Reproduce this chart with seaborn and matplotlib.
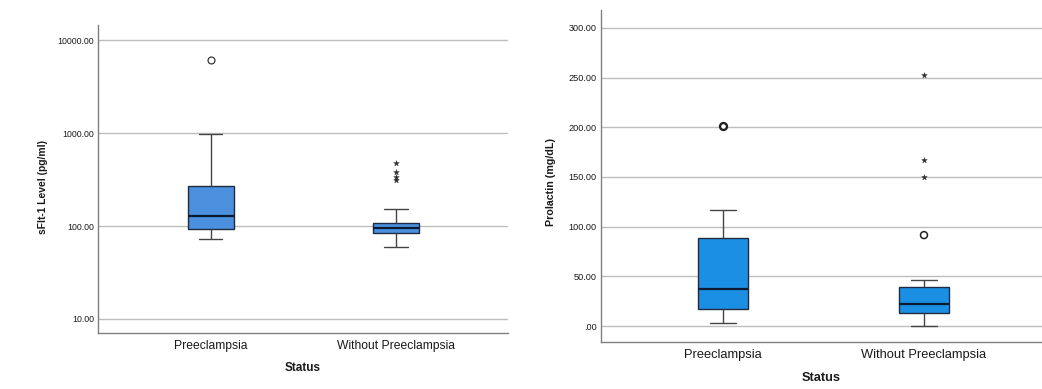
import matplotlib
matplotlib.use("Agg")
import matplotlib.pyplot as plt
import matplotlib.ticker as mticker
import pandas as pd
import seaborn as sns

groups = ["Preeclampsia", "Without Preeclampsia"]

# box summaries: whisker low, Q1, median, Q3, whisker high
sflt_pre = [73, 93, 128, 272, 980]
sflt_without = [60, 84, 95, 108, 153]
sflt_pre_circles = [6100]
sflt_without_stars = [472, 385, 334, 313]
sflt_ticks = [10, 100, 1000, 10000]

prl_pre = [3.3, 16.8, 36.9, 88.5, 116.4]
prl_without = [0.3, 13.4, 22.4, 39.5, 46.6]
prl_pre_circles = [201]
prl_without_circles = [91.5]
prl_without_stars = [253, 166.7, 149.6]
prl_ticks = [0, 50, 100, 150, 200, 250, 300]

sns.set_style("white")
plt.rcParams["font.family"] = ["Liberation Sans", "DejaVu Sans"]
plt.rcParams["text.color"] = "#1a1a1a"
plt.rcParams["axes.labelcolor"] = "#1a1a1a"
plt.rcParams["xtick.color"] = "#1a1a1a"
plt.rcParams["ytick.color"] = "#1a1a1a"


def long_df(a, b):
    return pd.DataFrame({"Status": [groups[0]] * len(a) + [groups[1]] * len(b),
                         "value": list(a) + list(b)})


def draw_box(ax, df, color, log=False):
    sns.boxplot(data=df, x="Status", y="value", order=groups, ax=ax,
                color=color, saturation=1, width=0.25, whis=(0, 100),
                showfliers=False, linecolor="#1f2b40", linewidth=1,
                log_scale=log,
                medianprops={"color": "#0b1a33", "linewidth": 1.6},
                whiskerprops={"color": "#444444"},
                capprops={"color": "#444444"})


def draw_out(ax, vals, group, marker, lw=1.1):
    if not vals:
        return
    d = pd.DataFrame({"Status": [group] * len(vals), "value": vals})
    if marker == "o":
        sns.stripplot(data=d, x="Status", y="value", order=groups, ax=ax,
                      jitter=False, marker="o", size=5, color="white",
                      edgecolor="#222222", linewidth=lw, zorder=4)
        ax.collections[-1].set_facecolor("none")
    else:
        sns.stripplot(data=d, x="Status", y="value", order=groups, ax=ax,
                      jitter=False, marker="*", size=4.2, color="#2a2a2a",
                      edgecolor="#2a2a2a", linewidth=0.3, zorder=4)


def style(ax):
    ax.set_axisbelow(True)
    ax.yaxis.grid(True, color="#bdbdbd", linewidth=1)
    ax.xaxis.grid(False)
    for s in ["top", "right"]:
        ax.spines[s].set_visible(False)
    for s in ["left", "bottom"]:
        ax.spines[s].set_color("#808080")
        ax.spines[s].set_linewidth(1)
    ax.tick_params(axis="both", length=0)
    ax.minorticks_off()


fig = plt.figure(figsize=(10.42, 3.89), dpi=100)

# left panel: sFlt-1 (log scale)
ax1 = fig.add_axes([0.0940, 0.1440, 0.3935, 0.7918])
draw_box(ax1, long_df(sflt_pre, sflt_without), "#4a90dc", log=True)
draw_out(ax1, sflt_pre_circles, groups[0], "o", lw=0.8)
draw_out(ax1, sflt_without_stars, groups[1], "*")
style(ax1)
ax1.set_yticks(sflt_ticks)
ax1.yaxis.set_major_formatter(mticker.FuncFormatter(lambda v, p: f"{v:.2f}"))
ax1.yaxis.set_minor_locator(mticker.NullLocator())
ax1.set_ylim(7.05, 14600)
ax1.set_xlim(-0.61, 1.605)
ax1.tick_params(axis="y", labelsize=6.3, pad=3)
ax1.tick_params(axis="x", labelsize=8.7, pad=5)
ax1.set_xlabel("Status", fontsize=8.5, fontweight="bold", labelpad=7.5)
ax1.set_ylabel("sFlt-1 Level (pg/ml)", fontsize=7.4, fontweight="bold")
ax1.yaxis.set_label_coords(-0.122, 0.474)


def spss_fmt(v, p):
    s = f"{v:.2f}"
    return s[1:] if s.startswith("0.") else s


# right panel: prolactin
ax2 = fig.add_axes([0.5765, 0.1200, 0.4235, 0.8542])
draw_box(ax2, long_df(prl_pre, prl_without), "#1b8fe3")
draw_out(ax2, prl_pre_circles, groups[0], "o", lw=1.7)
draw_out(ax2, prl_without_circles, groups[1], "o", lw=1.1)
draw_out(ax2, prl_without_stars, groups[1], "*")
style(ax2)
ax2.set_yticks(prl_ticks)
ax2.yaxis.set_major_formatter(mticker.FuncFormatter(spss_fmt))
ax2.set_ylim(-16.4, 318)
ax2.set_xlim(-0.608, 1.587)
ax2.tick_params(axis="y", labelsize=6.6, pad=3)
ax2.tick_params(axis="x", labelsize=9.3, pad=4.5)
ax2.set_xlabel("Status", fontsize=9.2, fontweight="bold", labelpad=8)
ax2.set_ylabel("Prolactin (mg/dL)", fontsize=7.7, fontweight="bold")
ax2.yaxis.set_label_coords(-0.102, 0.482)

fig.savefig("out.png", dpi=100)
